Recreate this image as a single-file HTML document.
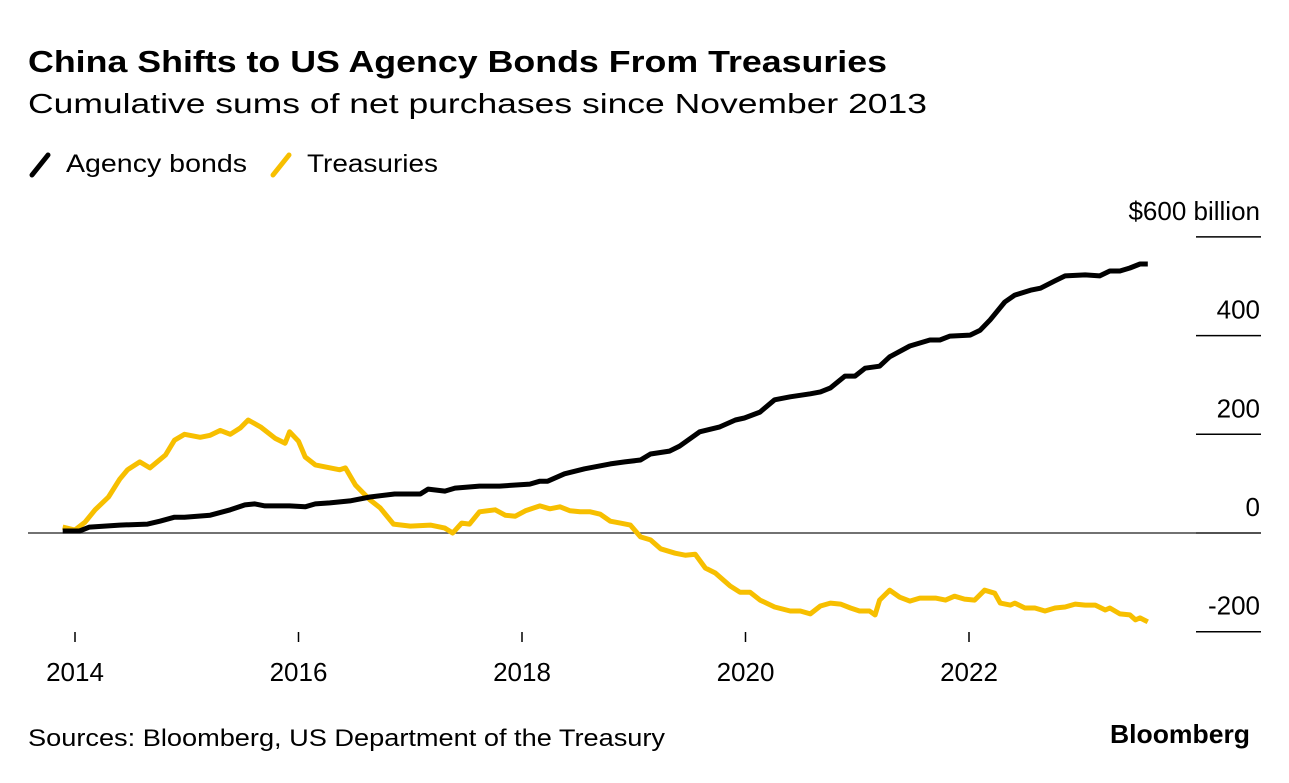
<!DOCTYPE html>
<html><head><meta charset="utf-8">
<style>
html,body{margin:0;padding:0;background:#fff;}
body{width:1289px;height:778px;overflow:hidden;font-family:"Liberation Sans",sans-serif;color:#000;}
</style></head>
<body>
<svg id="chart" width="1289" height="778" xmlns="http://www.w3.org/2000/svg" font-family="Liberation Sans, sans-serif">
<text x="28" y="72" font-size="31" font-weight="bold" textLength="859" lengthAdjust="spacingAndGlyphs">China Shifts to US Agency Bonds From Treasuries</text>
<text x="28" y="113" font-size="28" textLength="899" lengthAdjust="spacingAndGlyphs">Cumulative sums of net purchases since November 2013</text>
<g>
<g>
<line x1="32" y1="175" x2="48" y2="155" stroke="#000" stroke-width="5" stroke-linecap="round"/>
<text x="66" y="172" font-size="25" textLength="181" lengthAdjust="spacingAndGlyphs">Agency bonds</text></g>
<g>
<line x1="273" y1="175" x2="289" y2="155" stroke="#f7bf00" stroke-width="5" stroke-linecap="round"/>
<text x="307" y="172" font-size="25" textLength="131" lengthAdjust="spacingAndGlyphs">Treasuries</text></g>
</g>
<g id="yaxis"></g>
<g id="xaxis"></g>
<g id="series"></g>
<text x="28" y="746" font-size="24" textLength="637" lengthAdjust="spacingAndGlyphs">Sources: Bloomberg, US Department of the Treasury</text>
<text x="1250" y="743" font-size="26" font-weight="bold" text-anchor="end" textLength="140" lengthAdjust="spacingAndGlyphs">Bloomberg</text>
</svg>
<script>
const yTicks = [600, 400, 200, 0, -200];
const yTickLabels = ["$600 billion", "400", "200", "0", "-200"];
const xTicks = [2014, 2016, 2018, 2020, 2022];
const xTickLabels = ["2014", "2016", "2018", "2020", "2022"];
const agencyDates = [2013.89,2014.04,2014.13,2014.40,2014.65,2014.76,2014.89,2014.98,2015.21,2015.39,2015.52,2015.61,2015.70,2015.92,2016.06,2016.15,2016.28,2016.46,2016.64,2016.86,2017.09,2017.16,2017.31,2017.40,2017.62,2017.80,2018.07,2018.16,2018.23,2018.38,2018.56,2018.79,2018.92,2019.06,2019.15,2019.32,2019.41,2019.59,2019.77,2019.91,2019.99,2020.13,2020.26,2020.40,2020.58,2020.67,2020.76,2020.89,2020.98,2021.07,2021.20,2021.29,2021.47,2021.65,2021.74,2021.83,2022.01,2022.10,2022.19,2022.32,2022.41,2022.55,2022.64,2022.77,2022.86,2023.04,2023.17,2023.26,2023.35,2023.44,2023.53,2023.60];
const agencyValues = [4,4,12,16,18,24,32,32,36,47,57,59,55,55,53,59,61,65,73,79,79,89,85,91,95,95,99,105,105,120,130,140,144,148,160,166,176,205,215,229,233,245,270,276,282,286,294,318,318,334,338,357,379,391,391,399,401,411,432,468,482,492,496,511,521,523,521,531,531,537,545,545];
const treasuryDates = [2013.89,2014.00,2014.09,2014.18,2014.30,2014.40,2014.47,2014.58,2014.67,2014.81,2014.89,2014.98,2015.12,2015.21,2015.30,2015.39,2015.48,2015.55,2015.66,2015.79,2015.88,2015.92,2016.00,2016.06,2016.15,2016.37,2016.42,2016.51,2016.64,2016.73,2016.85,2017.00,2017.18,2017.31,2017.38,2017.46,2017.53,2017.62,2017.76,2017.85,2017.94,2018.03,2018.16,2018.25,2018.34,2018.43,2018.52,2018.61,2018.70,2018.79,2018.88,2018.97,2019.06,2019.15,2019.24,2019.37,2019.46,2019.55,2019.64,2019.73,2019.86,2019.95,2020.04,2020.13,2020.26,2020.40,2020.49,2020.58,2020.67,2020.76,2020.85,2020.94,2021.02,2021.11,2021.16,2021.20,2021.29,2021.38,2021.47,2021.56,2021.70,2021.79,2021.87,2021.96,2022.05,2022.14,2022.23,2022.28,2022.37,2022.41,2022.50,2022.59,2022.68,2022.77,2022.86,2022.95,2023.04,2023.13,2023.22,2023.26,2023.35,2023.44,2023.49,2023.53,2023.60];
const treasuryValues = [12,6,22,47,73,109,128,144,132,158,188,200,194,198,208,200,213,229,215,192,182,205,186,154,138,128,132,97,67,51,18,14,16,10,0,20,18,43,47,36,34,45,55,49,53,45,43,43,38,24,20,16,-8,-14,-32,-41,-45,-43,-71,-81,-107,-120,-120,-136,-150,-158,-158,-164,-148,-142,-144,-152,-158,-158,-166,-136,-116,-130,-138,-132,-132,-136,-128,-134,-136,-116,-122,-142,-146,-142,-152,-152,-158,-152,-150,-144,-146,-146,-156,-152,-164,-166,-176,-172,-180];

const NS = "http://www.w3.org/2000/svg";
function xScale(t){ return 75 + (t - 2014) * 111.75; }
function yScale(v){ return 533 - v * 0.4935; }

const yAxis = document.getElementById('yaxis');
yTicks.forEach((v, i) => {
  const ln = document.createElementNS(NS, 'line');
  
  
  ln.setAttribute('x1', 1196); ln.setAttribute('x2', 1261);
  ln.setAttribute('y1', yScale(v)); ln.setAttribute('y2', yScale(v));
  ln.setAttribute('stroke', '#000'); ln.setAttribute('stroke-width', 1.5);
  yAxis.appendChild(ln);
  const tx = document.createElementNS(NS, 'text');
  
  
  tx.setAttribute('x', 1260); tx.setAttribute('y', yScale(v) - 17);
  tx.setAttribute('text-anchor', 'end'); tx.setAttribute('font-size', 26);
  tx.textContent = yTickLabels[i];
  yAxis.appendChild(tx);
});
const zero = document.createElementNS(NS, 'line');


zero.setAttribute('x1', 28); zero.setAttribute('x2', 1261);
zero.setAttribute('y1', yScale(0)); zero.setAttribute('y2', yScale(0));
zero.setAttribute('stroke', '#444'); zero.setAttribute('stroke-width', 1.5);
yAxis.appendChild(zero);

const xAxis = document.getElementById('xaxis');
xTicks.forEach((t, i) => {
  const ln = document.createElementNS(NS, 'line');
  
  
  ln.setAttribute('x1', xScale(t)); ln.setAttribute('x2', xScale(t));
  ln.setAttribute('y1', 632); ln.setAttribute('y2', 642);
  ln.setAttribute('stroke', '#000'); ln.setAttribute('stroke-width', 1.5);
  xAxis.appendChild(ln);
  const tx = document.createElementNS(NS, 'text');
  
  
  tx.setAttribute('x', xScale(t)); tx.setAttribute('y', 681);
  tx.setAttribute('text-anchor', 'middle'); tx.setAttribute('font-size', 26);
  tx.textContent = xTickLabels[i];
  xAxis.appendChild(tx);
});

const series = document.getElementById('series');
function drawLine(dates, vals, color, name){
  const p = document.createElementNS(NS, 'polyline');
  
  
  p.setAttribute('points', dates.map((d, i) => xScale(d).toFixed(1) + ',' + yScale(vals[i]).toFixed(1)).join(' '));
  p.setAttribute('fill', 'none'); p.setAttribute('stroke', color);
  p.setAttribute('stroke-width', 5); p.setAttribute('stroke-linejoin', 'round');
  series.appendChild(p);
}
drawLine(treasuryDates, treasuryValues, '#f7bf00', 'treasuries-line');
drawLine(agencyDates, agencyValues, '#000', 'agency-bonds-line');
</script>
</body></html>
